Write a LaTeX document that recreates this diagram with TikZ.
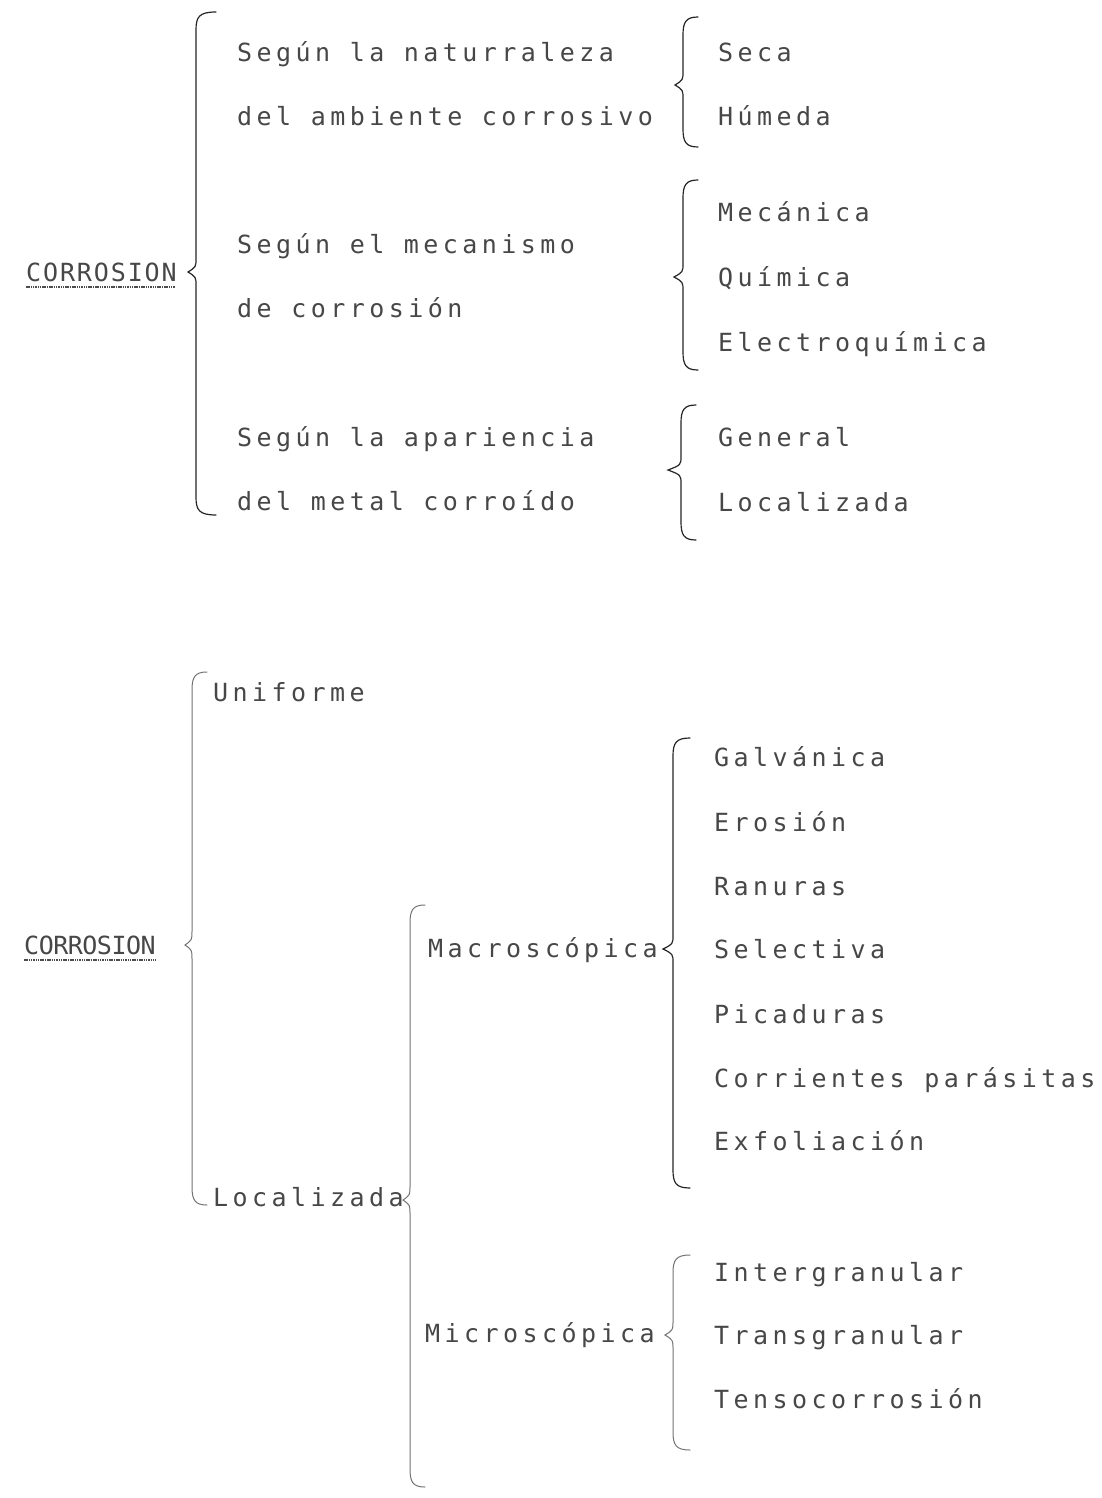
\documentclass[tikz,border=0pt]{standalone}
\usepackage{fontspec}
\newfontfamily\tw[LetterSpace=17.8]{DejaVu Sans Mono}
\newfontfamily\twa[LetterSpace=7.5]{DejaVu Sans Mono}
\newfontfamily\twb[LetterSpace=-2]{DejaVu Sans Mono}
\newcommand\cbr[7][]{% #2 x, #3 top, #4 tip x, #5 tip y, #6 bottom, #7 hook x
  \draw[bracestyle,#1] (#7,#3) .. controls (#2+3,#3) and (#2,#3+5) .. (#2,#3+18)
    -- (#2,#5-14) .. controls (#2,#5-5) .. (#4,#5)
    .. controls (#2,#5+5) .. (#2,#5+14)
    -- (#2,#6-18) .. controls (#2,#6-5) and (#2+3,#6) .. (#7,#6);}
\tikzset{
  txt/.style={inner sep=0pt, anchor=base west, text=black!72, font=\tw\fontsize{25}{30}\selectfont},
  txta/.style={txt, font=\twa\fontsize{25}{30}\selectfont},
  txtb/.style={txt, font=\twb\fontsize{25}{30}\selectfont},
  bracestyle/.style={draw=black!85, line width=1.2pt, line cap=round},
  faint/.style={draw=black!55, line width=1pt},
  uline/.style={draw=black!70, line width=1.6pt, dash pattern=on 1.5pt off 0.8pt}
}
\begin{document}
\begin{tikzpicture}[x=1pt,y=-1pt]
\fill[white] (0,0) rectangle (1101,1498);
\useasboundingbox (0,0) rectangle (1101,1498);

% ---------- top part ----------
\node[txta] (c1) at (26,281) {CORROSION};
\draw[uline] ([yshift=-6pt]c1.base west) -- ([yshift=-6pt,xshift=-2pt]c1.base east);
\cbr{196}{12}{188}{272}{515}{216}

\node[txt] (a1) at (237,62)  {Según la naturraleza};
\node[txt] (a2) at (237,126) {del ambiente corrosivo};
\node[txt] (a3) at (237,253) {Según el mecanismo};
\node[txt] (a4) at (237,317) {de corrosión};
\node[txt] (a5) at (237,446) {Según la apariencia};
\node[txt] (a6) at (237,510) {del metal corroído};

\cbr{683}{17}{675}{85}{147}{698}
\cbr{683}{180}{674}{277}{370}{698}
\cbr{681}{405}{668}{470}{540}{696}

\node[txt] (b1) at (718,62)  {Seca};
\node[txt] (b2) at (718,126) {Húmeda};
\node[txt] (b3) at (718,222) {Mecánica};
\node[txt] (b4) at (718,286) {Química};
\node[txt] (b5) at (718,351) {Electroquímica};
\node[txt] (b6) at (718,446) {General};
\node[txt] (b7) at (718,511) {Localizada};

% ---------- bottom part ----------
\node[txtb] (c2) at (24,954) {CORROSION};
\draw[uline] ([yshift=-6pt]c2.base west) -- ([yshift=-6pt]c2.base east);
\cbr[faint]{192}{672}{185}{945}{1205}{207}

\node[txt] (u1) at (213,701)  {Uniforme};
\node[txt] (u2) at (213,1206) {Localizada};

\cbr[faint]{410}{905}{403}{1200}{1487}{425}

\node[txt] (m1) at (428,957)  {Macroscópica};
\node[txt] (m2) at (425,1342) {Microscópica};

\cbr{673}{738}{663}{949}{1188}{690}
\cbr[faint]{673}{1255}{665}{1335}{1450}{690}

\node[txt] (g1) at (714,766)  {Galvánica};
\node[txt] (g2) at (714,831)  {Erosión};
\node[txt] (g3) at (714,895)  {Ranuras};
\node[txt] (g4) at (714,958)  {Selectiva};
\node[txt] (g5) at (714,1023) {Picaduras};
\node[txt] (g6) at (714,1087) {Corrientes parásitas};
\node[txt] (g7) at (714,1150) {Exfoliación};

\node[txt] (h1) at (714,1281) {Intergranular};
\node[txt] (h2) at (714,1344) {Transgranular};
\node[txt] (h3) at (714,1408) {Tensocorrosión};
\end{tikzpicture}
\end{document}
